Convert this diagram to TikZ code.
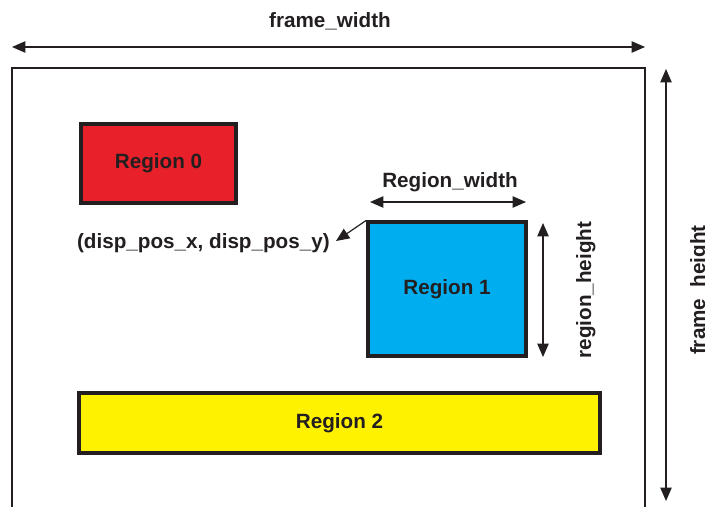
\documentclass[tikz,border=0pt]{standalone}
\usepackage{fontspec}
\setmainfont{Liberation Sans}
\usetikzlibrary{arrows.meta}
\definecolor{ink}{HTML}{231F20}
\definecolor{regred}{HTML}{E8202A}
\definecolor{regblue}{HTML}{00AEEF}
\definecolor{regyellow}{HTML}{FFF200}
\tikzset{
  region/.style={draw=ink, line width=2.5pt, inner sep=0pt, font=\bfseries\fontsize{15.5}{18}\selectfont, text=ink},
  dim/.style={draw=ink, line width=0.9pt, {Triangle[length=10pt,width=8.5pt]}-{Triangle[length=10pt,width=8.5pt]}},
  pointer/.style={draw=ink, line width=0.9pt, -{Triangle[length=10pt,width=8.5pt]}},
  lbl/.style={font=\bfseries\fontsize{15.5}{18}\selectfont, text=ink, inner sep=0pt},
}
\begin{document}
\begin{tikzpicture}[x=0.75pt, y=-0.75pt]
\useasboundingbox (0,0) rectangle (705,506);

% frame outline, open at the bottom
\coordinate (fBL) at (12,520);
\coordinate (fTL) at (12,68);
\coordinate (fTR) at (645,68);
\coordinate (fBR) at (645,520);
\draw[ink, line width=1.6pt] (fBL) -- (fTL) -- (fTR) -- (fBR);

% frame width dimension
\coordinate (fwL) at (12,47);
\coordinate (fwR) at (645,47);
\draw[dim] (fwL) -- (fwR);
\node[lbl, anchor=base] (fwlabel) at (330,28) {frame\_width};

% frame height dimension
\coordinate (fhT) at (666,69);
\coordinate (fhB) at (666,501);
\draw[dim] (fhT) -- (fhB);
\node[lbl, anchor=base, rotate=90] (fhlabel) at (705,290) {frame\_height};

% regions
\node[region, fill=regred, minimum width=155*0.75pt, minimum height=79*0.75pt] (r0) at (158.5,163.5) {Region 0};
\node[region, fill=regblue, minimum width=158*0.75pt, minimum height=134*0.75pt] (r1) at (447,289) {Region 1};
\node[region, fill=regyellow, minimum width=521*0.75pt, minimum height=60*0.75pt] (r2) at (339.5,423) {Region 2};

% region 1 width
\coordinate (rwL) at (370,202);
\coordinate (rwR) at (526,202);
\draw[dim] (rwL) -- (rwR);
\node[lbl, anchor=base] (rwlabel) at (450,187) {Region\_width};

% region 1 height
\coordinate (rhT) at (543,223);
\coordinate (rhB) at (543,357);
\draw[dim] (rhT) -- (rhB);
\node[lbl, anchor=base, rotate=90] (rhlabel) at (591,290) {region\_height};

% display position pointer
\node[lbl, anchor=base east] (disp) at (330,248) {(disp\_pos\_x, disp\_pos\_y)};
\coordinate (dispTip) at (336,241);
\draw[pointer] (r1.north west) -- (dispTip);
\end{tikzpicture}
\end{document}
